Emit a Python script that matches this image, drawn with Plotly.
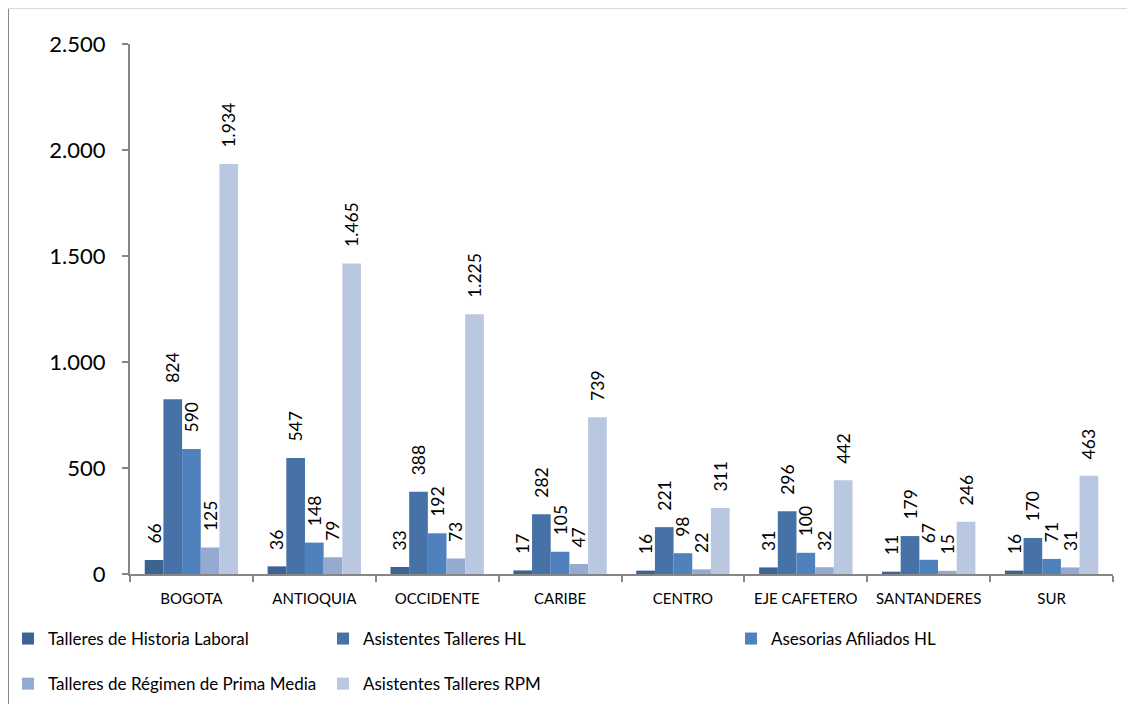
import plotly.graph_objects as go

categories = ["BOGOTA", "ANTIOQUIA", "OCCIDENTE", "CARIBE", "CENTRO",
              "EJE CAFETERO", "SANTANDERES", "SUR"]
talleres_hl = [66, 36, 33, 17, 16, 31, 11, 16]
asistentes_hl = [824, 547, 388, 282, 221, 296, 179, 170]
asesorias_hl = [590, 148, 192, 105, 98, 100, 67, 71]
talleres_rpm = [125, 79, 73, 47, 22, 32, 15, 31]
asistentes_rpm = [1934, 1465, 1225, 739, 311, 442, 246, 463]
y_ticks = [0, 500, 1000, 1500, 2000, 2500]

series = [
    ("Talleres de Historia Laboral", talleres_hl, "#3D6393", "legend", "g1"),
    ("Asistentes Talleres HL", asistentes_hl, "#4672A8", "legend2", "g2"),
    ("Asesorias Afiliados HL", asesorias_hl, "#4F81BD", "legend3", "g3"),
    ("Talleres de Régimen de Prima Media", talleres_rpm, "#95AAD1", "legend", "g4"),
    ("Asistentes Talleres RPM", asistentes_rpm, "#B9C7E1", "legend2", "g5"),
]

FONT = "Lato"
W, H = 1127, 696

fig = go.Figure()
for name, vals, color, leg, grp in series:
    fig.add_trace(go.Bar(
        x=categories, y=vals, name=name,
        marker=dict(color=color, line=dict(width=0)),
        texttemplate="\u00a0\u00a0\u00a0%{y:,}",
        textposition="outside", textangle=-90, constraintext="none",
        cliponaxis=False,
        textfont=dict(family=FONT, size=17.5, color="#000000"),
        legend=leg, legendgroup=grp,
        hoverinfo="skip",
    ))

leg_common = dict(
    xref="container", yref="container", orientation="v",
    font=dict(family=FONT, size=17, color="#000000"),
    bgcolor="rgba(0,0,0,0)", traceorder="grouped", tracegroupgap=20,
    yanchor="top", xanchor="left", itemclick=False, itemdoubleclick=False,
)

fig.update_layout(
    width=W, height=H,
    margin=dict(l=122, r=22, t=36, b=130, autoexpand=False),
    paper_bgcolor="white", plot_bgcolor="white",
    separators=",.",
    barmode="group", bargap=0.24, bargroupgap=0,
    font=dict(family=FONT, color="#000000"),
    showlegend=True,
    legend=dict(leg_common, x=0.0, y=1 - 613 / H),
    legend2=dict(leg_common, x=(355 - 40) / W, y=1 - 613 / H),
    legend3=dict(leg_common, x=(763 - 40) / W, y=1 - 613 / H),
    xaxis=dict(
        showline=True, linecolor="#868686", linewidth=2,
        ticks="outside", ticklen=6, tickcolor="#868686", tickwidth=2,
        tickson="boundaries", showgrid=False, automargin=False, tickangle=0,
        tickfont=dict(family=FONT, size=15, color="#000000"),
        ticklabelstandoff=10,
    ),
    yaxis=dict(
        range=[0, 2500], tickvals=y_ticks, tickformat=",d",
        showline=True, linecolor="#868686", linewidth=2,
        ticks="outside", ticklen=6, tickcolor="#868686", tickwidth=2,
        showgrid=False, zeroline=False, automargin=False,
        tickfont=dict(family=FONT, size=22, color="#000000"),
        ticklabelstandoff=12,
    ),
    shapes=[
        dict(type="line", xref="paper", yref="paper",
             x0=-122 / 983, x1=-122 / 983, y0=-130 / 530, y1=1 + 36 / 530,
             line=dict(color="#868686", width=2)),
        dict(type="line", xref="paper", yref="paper",
             x0=-122 / 983, x1=1 + 22 / 983, y0=1 + 35.5 / 530, y1=1 + 35.5 / 530,
             line=dict(color="#D9D9D9", width=1)),
    ],
)

fig.write_html("out.html")
